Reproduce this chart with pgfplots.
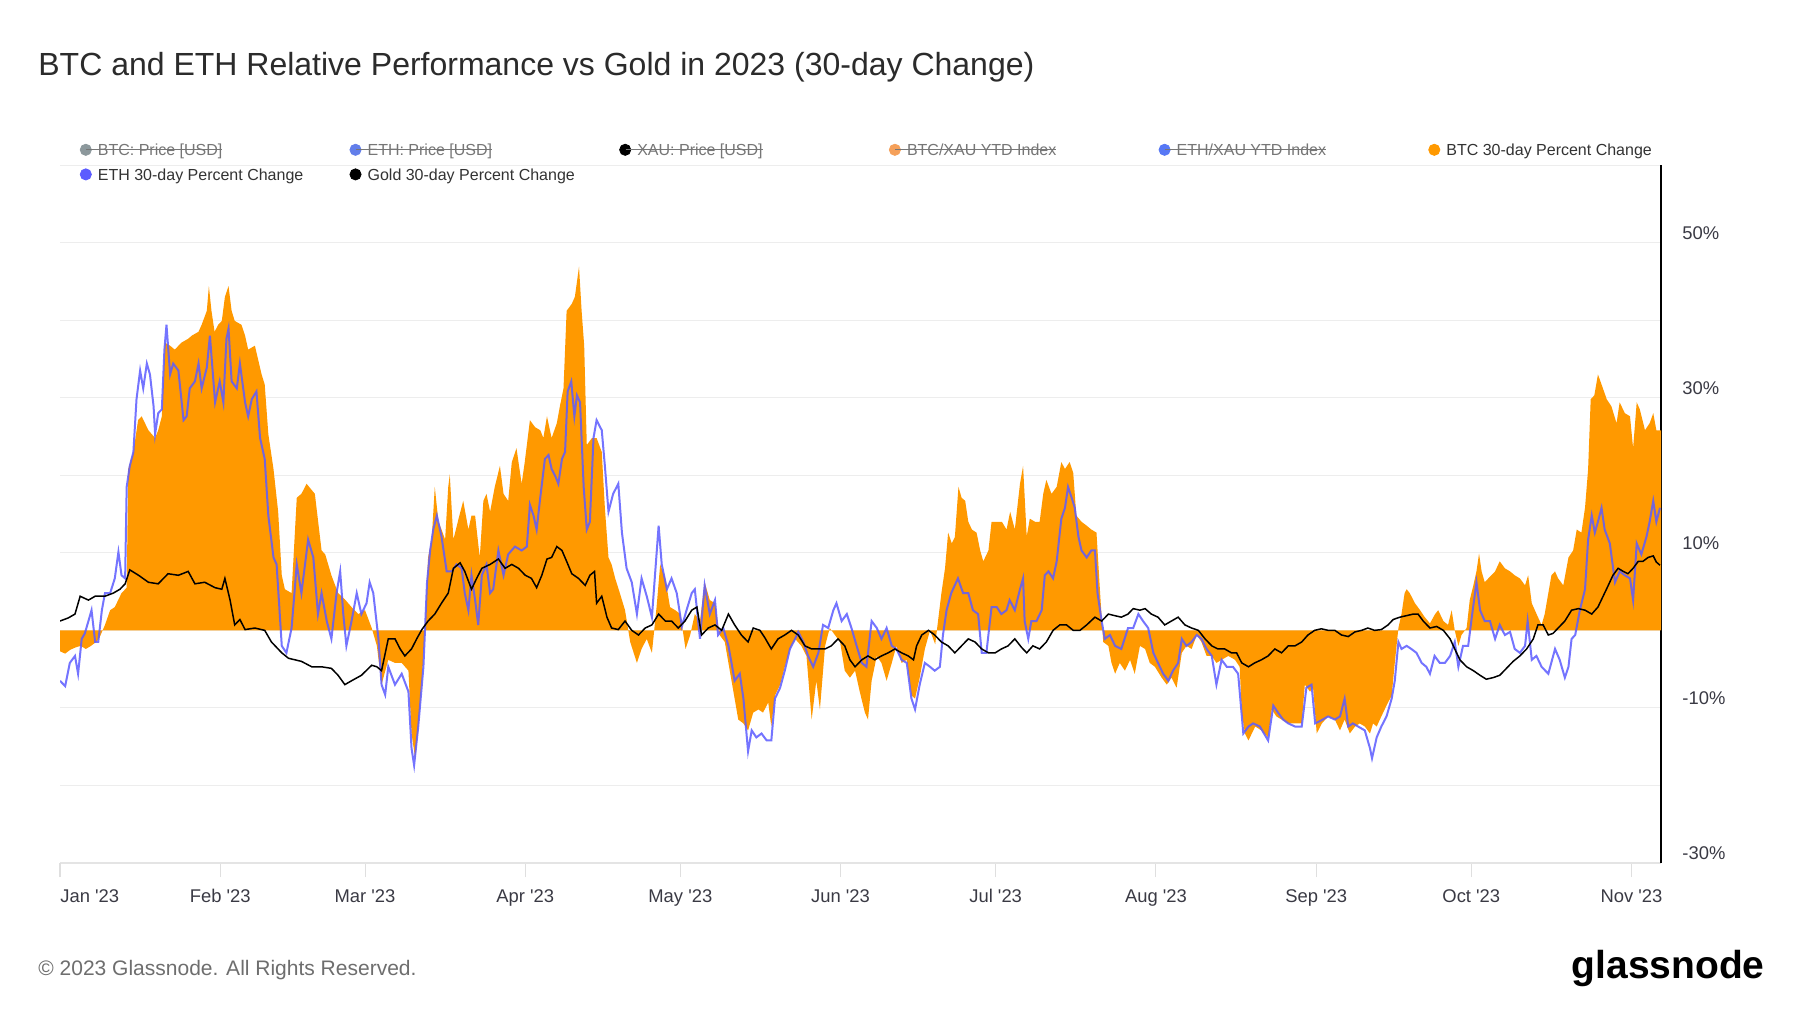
\documentclass[border=0pt]{standalone}
\usepackage{fontspec}
\setmainfont{Liberation Sans}
\usepackage{pgfplots}
\pgfplotsset{compat=1.18}
\definecolor{btc}{HTML}{FF9900}
\definecolor{eth}{HTML}{5C5CFF}
\definecolor{gridc}{HTML}{EDEDED}
\definecolor{xaxisc}{HTML}{E4E4E4}
\definecolor{titlec}{HTML}{2B2B2B}
\definecolor{tickc}{HTML}{3A3A44}
\definecolor{footc}{HTML}{6E6E6E}
\definecolor{lgray}{HTML}{767676}
\definecolor{ldark}{HTML}{333333}
\definecolor{cbtcp}{HTML}{8C989C}
\definecolor{cethp}{HTML}{627EEA}
\definecolor{cbtcx}{HTML}{F5A05A}
\definecolor{cethx}{HTML}{5778F5}
\newcommand\strike[1]{\setbox0=\hbox{#1}\dimen0=\wd0\advance\dimen0 by 5.9pt\kern-5.9pt\rlap{\rule[2.7pt]{\dimen0}{0.5pt}}\kern5.9pt\box0}
\pgfplotsset{dotleg/.style={legend image code/.code={\fill[#1] (2.8pt,0.9pt) circle (2.8pt);}}}

\pgfplotstableread{
x y
0 -2.7
1 -3.0
2 -2.5
3 -2.2
4 -2.0
5 -2.4
6 -2.0
7 -1.5
7.6 -1.0
8.7 0.7
9.7 2.6
10.6 3.0
11.9 4.8
12.9 5.5
13.2 20.8
14.2 23.0
15.1 27.1
15.8 27.6
17.1 25.8
18.4 24.8
19.0 25.8
19.7 27.6
20.3 37.1
21.3 36.7
22.2 36.2
23.5 37.1
24.8 37.6
25.5 38.0
26.8 38.5
27.4 39.4
28.4 41.2
28.8 44.4
29.3 41.2
29.9 38.5
30.6 39.4
31.3 39.9
31.9 43.0
32.6 44.4
33.2 41.2
33.8 39.9
35.1 39.4
35.8 38.0
36.4 36.2
37.7 36.7
39.0 33.0
39.6 31.7
40.3 25.3
41.3 20.8
42.2 15.3
42.9 7.1
43.5 5.3
44.8 4.8
45.8 17.1
46.7 17.6
47.7 18.9
49.3 17.6
50.6 10.3
51.3 9.8
52.5 7.1
53.8 4.8
55.1 4.0
56.4 3.0
57.7 2.1
59.0 2.6
60.3 0.3
61.3 -2.0
62.2 -7.0
63.5 -3.8
64.8 -4.2
66.1 -4.2
67.4 -5.2
68.0 -13.3
68.7 -16.5
69.3 -12.9
70.0 -6.5
70.6 0.3
71.2 9.4
71.9 11.7
72.5 18.5
73.2 14.0
73.8 13.0
74.5 11.7
75.1 18.5
75.4 20.1
76.1 11.7
77.1 14.4
78.0 16.7
79.0 13.0
79.6 14.8
80.3 14.8
81.2 9.4
81.9 16.7
82.5 17.6
83.2 15.3
84.1 18.5
85.1 21.2
85.8 17.6
86.7 16.7
87.4 21.7
88.3 23.5
89.3 18.9
89.9 21.7
90.9 27.1
91.9 26.2
92.9 25.8
93.5 24.8
94.2 27.6
95.1 24.8
96.1 26.7
96.7 28.9
97.4 31.2
98.0 41.2
99.0 42.1
99.6 43.0
100.4 46.9
100.9 41.2
101.4 36.7
101.9 23.9
102.9 24.8
103.8 24.8
104.8 23.0
105.4 15.8
106.1 9.4
106.7 8.5
107.4 6.7
108.3 4.8
109.3 2.6
110.3 -1.5
111.6 -4.2
112.5 -2.4
113.5 -1.1
114.5 -2.9
115.4 3.0
116.1 8.5
117.1 6.7
118.0 3.0
119.0 2.6
120.0 2.1
121.0 -2.4
121.9 -0.6
122.8 2.1
123.8 1.2
124.7 6.2
125.7 3.9
126.7 3.5
127.6 -0.6
128.6 -1.5
129.3 -4.2
129.9 -6.5
130.5 -8.8
131.2 -11.5
132.2 -12.0
133.1 -12.9
134.1 -10.6
135.1 -10.2
136.0 -10.6
137.0 -9.3
137.6 -12.4
138.3 -8.4
139.3 -7.0
140.2 -4.7
141.2 -2.4
142.2 -1.1
143.4 -2.0
144.4 -3.3
145.4 -11.5
146.3 -6.5
147.0 -10.2
148.0 -2.0
148.9 0.3
149.9 -0.6
150.9 -1.5
151.8 -5.2
152.8 -6.1
153.8 -5.2
154.7 -7.9
155.7 -10.6
156.3 -11.5
157.0 -6.5
158.0 -3.3
158.9 -4.2
159.9 -6.5
160.9 -4.2
161.8 -2.0
162.8 -4.2
163.8 -3.8
164.7 -8.4
165.4 -8.8
166.3 -6.1
167.3 -2.4
168.3 0.0
169.3 -1.8
170.5 4.8
171.2 8.0
171.8 12.6
172.5 11.2
173.1 12.0
173.8 18.5
174.4 17.1
175.1 16.7
175.7 14.0
176.4 13.0
177.3 12.6
178.0 10.3
178.6 8.9
179.6 10.3
180.2 14.0
181.2 14.0
182.2 14.0
183.1 13.0
183.8 15.3
184.7 13.0
185.7 18.9
186.3 21.2
187.0 12.1
187.6 14.4
188.6 14.0
189.5 14.0
190.2 17.6
190.8 19.4
191.8 17.6
192.8 18.5
193.7 21.7
194.4 20.8
195.3 21.7
196.0 20.3
196.6 14.8
197.6 14.0
198.6 13.5
199.5 13.0
200.5 12.6
201.2 4.8
201.8 -1.5
202.8 -2.0
203.4 -4.2
204.1 -5.6
205.0 -4.2
206.0 -5.2
207.0 -3.8
207.9 -5.6
208.9 -2.0
209.9 -2.4
210.8 -4.2
211.8 -4.7
213.1 -6.1
214.1 -7.0
215.0 -6.1
216.0 -7.4
217.0 -2.9
217.9 -2.0
218.9 -2.4
219.9 -0.6
220.8 -1.5
221.8 -3.3
222.8 -3.3
223.7 -4.2
224.7 -3.8
226.0 -3.3
227.3 -3.8
228.2 -4.7
228.6 -10.6
229.2 -13.3
229.9 -14.2
231.2 -12.4
232.4 -12.9
233.7 -13.8
234.4 -10.2
235.3 -11.1
236.3 -11.5
237.6 -12.0
238.9 -12.0
240.2 -12.0
240.8 -7.0
241.8 -7.9
242.4 -7.4
243.1 -13.3
244.1 -12.0
245.3 -11.1
246.6 -11.5
247.6 -12.9
248.5 -11.5
249.5 -13.3
250.5 -12.4
251.4 -12.0
252.4 -12.4
253.4 -13.3
254.0 -12.0
254.7 -12.4
255.6 -11.1
256.6 -9.7
257.6 -8.4
258.2 -4.2
258.9 0.3
259.5 2.1
260.1 4.8
260.5 5.3
261.1 4.8
262.1 3.5
263.1 2.6
264.0 1.7
265.0 0.9
266.0 2.1
266.6 2.6
267.6 1.2
268.5 0.7
269.2 2.6
269.8 0.0
270.5 -2.0
271.1 -0.6
272.1 0.3
272.7 3.9
273.4 5.8
274.0 7.6
274.5 9.9
275.0 7.6
275.6 6.2
276.3 6.7
276.9 7.1
277.6 7.6
278.5 8.9
279.5 8.0
280.5 7.6
281.4 7.1
282.4 6.7
283.4 5.8
284.0 7.1
284.7 3.5
285.3 2.6
285.9 1.7
286.6 0.7
287.2 2.1
287.9 4.8
288.5 7.1
289.2 7.6
289.8 6.7
290.8 5.8
291.8 9.4
292.7 10.3
293.4 13.0
294.3 12.6
295.0 15.8
295.6 20.8
296.1 29.8
296.8 30.3
297.5 33.0
298.2 31.7
299.2 29.8
300.1 28.9
301.1 26.7
301.7 29.4
302.7 28.0
303.7 27.6
304.3 23.5
305.0 29.4
305.6 28.5
306.6 25.8
307.5 26.7
308.2 28.0
308.8 25.8
309.7 25.8
}\btcdata

\pgfplotstableread{
x y
0 -6.5
1.0 -7.2
1.9 -4.2
2.9 -3.3
3.5 -5.6
4.2 -1.1
4.8 -0.4
5.5 1.2
6.1 2.6
6.8 -1.5
7.4 -1.5
8.1 2.6
8.7 4.8
9.7 4.8
10.6 6.7
11.3 10.1
11.9 7.1
12.6 6.7
12.9 18.5
13.5 21.2
14.2 23.0
14.8 29.8
15.5 33.5
16.1 31.2
16.8 34.4
17.4 33.0
18.1 28.9
18.4 25.3
19.0 28.0
19.7 28.5
20.2 36.2
20.6 39.4
21.3 33.0
21.9 34.4
22.9 33.5
23.9 27.1
24.5 27.6
25.1 31.2
26.1 32.1
26.8 34.4
27.4 31.2
28.4 33.9
29.0 38.0
30.0 29.4
30.9 32.1
31.6 29.4
32.2 37.6
32.6 38.9
33.2 32.1
34.2 31.2
34.8 34.4
35.8 29.4
36.4 27.6
37.1 29.8
38.0 30.8
38.7 24.8
39.6 22.1
40.3 14.8
41.3 9.4
41.9 8.5
42.9 -2.0
43.8 -2.9
44.8 0.3
45.8 8.5
46.7 4.8
48.0 11.7
49.0 9.4
49.9 2.1
50.6 4.8
51.6 1.2
52.5 -1.1
53.5 4.8
54.2 7.6
54.8 2.1
55.4 -2.0
56.4 1.2
57.4 4.8
58.3 2.1
59.3 3.5
59.9 6.2
60.6 4.8
61.6 -1.1
62.2 -7.0
62.9 -8.3
63.5 -4.7
64.8 -7.0
66.1 -5.6
67.4 -7.9
68.0 -15.2
68.5 -17.4
69.3 -12.4
70.3 -4.7
71.0 6.2
71.6 10.3
72.2 13.0
72.9 14.8
73.8 12.1
74.8 7.6
75.8 7.6
76.7 8.5
77.7 8.0
78.3 4.8
79.0 2.6
79.6 7.1
80.3 3.9
80.9 0.7
81.6 7.1
82.5 8.5
83.2 4.8
83.8 5.3
84.8 10.3
85.8 7.1
86.7 9.8
88.0 10.8
89.3 10.3
90.3 10.8
90.9 16.2
91.6 14.8
92.2 13.0
92.9 17.1
93.8 22.1
94.5 22.6
95.1 20.8
95.8 19.9
96.4 18.9
97.1 22.1
97.7 23.0
98.2 30.8
98.9 32.1
99.5 27.6
100.0 30.3
100.6 29.4
101.3 18.5
101.9 13.0
102.5 14.0
103.2 24.8
103.8 27.1
104.8 25.8
105.4 21.2
106.1 15.3
107.0 17.6
108.0 18.9
108.7 12.6
109.6 8.0
110.6 6.2
111.6 2.1
112.5 6.7
113.5 4.4
114.5 1.7
115.8 13.5
116.4 8.5
117.4 5.3
118.3 6.7
119.3 4.8
120.3 0.5
121.2 2.6
122.2 4.8
122.8 5.3
123.8 -1.1
124.7 5.8
125.7 2.1
126.7 3.9
127.3 -0.6
128.3 0.3
129.3 -2.0
129.9 -4.2
130.5 -6.5
131.5 -5.6
132.2 -8.8
133.1 -15.6
133.8 -12.9
134.7 -13.8
135.7 -13.3
136.7 -14.2
137.6 -14.2
138.3 -8.8
139.3 -7.4
140.2 -5.2
141.2 -2.4
142.2 -1.1
142.8 -0.2
143.8 -1.5
144.7 -3.3
145.7 -4.7
146.7 -2.9
147.6 0.7
148.6 0.3
149.6 2.6
150.2 3.5
151.2 1.2
152.2 2.1
153.1 0.3
154.1 -2.0
155.1 -4.2
156.0 -4.7
157.0 1.2
158.0 0.3
158.9 -1.1
159.9 0.3
160.9 -2.0
161.8 -2.4
162.8 -3.8
163.8 -4.2
164.7 -8.8
165.4 -10.2
166.3 -7.0
167.3 -4.2
168.3 -4.7
169.2 -5.2
170.2 -4.7
170.8 -0.6
171.5 2.6
172.4 4.8
173.7 6.7
174.7 4.8
175.7 4.8
176.6 2.6
177.6 2.1
178.3 -2.9
179.2 -2.9
180.2 3.0
181.2 3.0
182.1 2.1
183.1 2.6
183.7 3.9
184.7 2.6
185.7 5.3
186.3 6.7
186.6 1.2
187.3 -1.1
187.9 1.2
188.9 1.2
189.9 2.6
190.5 7.1
191.2 7.6
192.1 6.7
192.8 8.9
193.7 14.4
194.4 15.8
195.0 18.5
195.7 17.1
196.3 15.8
197.0 12.1
197.6 10.3
198.6 9.4
199.5 10.3
200.2 10.3
200.7 4.8
201.5 1.2
202.1 -1.1
203.1 -0.6
204.1 -2.0
205.3 -2.4
206.6 0.3
207.6 0.3
208.6 2.1
209.5 1.2
210.5 0.3
211.5 -2.9
212.4 -4.2
213.4 -5.6
214.4 -6.5
215.3 -5.2
216.3 -4.2
217.0 -1.1
217.9 -2.0
218.9 -1.5
219.9 -0.6
220.8 -1.1
221.8 -2.4
222.8 -3.3
223.7 -7.0
224.7 -3.8
225.7 -4.7
226.9 -4.7
227.9 -5.6
228.9 -13.3
229.9 -12.4
230.8 -12.0
232.1 -12.4
233.7 -14.2
234.7 -9.7
235.6 -10.6
236.6 -11.5
237.6 -12.0
238.9 -12.4
240.2 -12.4
241.1 -7.4
242.1 -7.0
242.8 -12.0
244.0 -11.6
245.3 -11.1
246.6 -11.5
247.6 -11.1
248.5 -8.8
249.2 -12.4
250.1 -12.0
251.1 -12.4
252.4 -12.9
253.4 -15.2
253.8 -16.5
254.7 -13.8
255.6 -12.4
256.6 -11.1
257.6 -8.8
258.2 -6.5
258.9 -1.5
259.5 -2.4
260.5 -2.0
261.4 -2.4
262.4 -2.9
263.4 -4.2
264.3 -4.7
265.0 -5.6
265.9 -3.3
266.9 -4.2
267.9 -4.2
268.9 -3.3
269.8 -1.5
270.5 -4.7
271.4 -2.0
272.4 -2.0
273.1 1.7
274.0 6.2
274.7 2.6
275.6 1.2
276.6 1.2
277.6 -1.1
278.5 0.7
279.5 -0.6
280.5 -0.2
281.4 -2.4
282.4 -2.9
283.4 -2.0
283.9 1.2
284.7 -3.8
285.6 -3.3
286.6 -4.7
287.9 -5.6
289.2 -2.4
290.1 -3.8
291.1 -6.1
291.8 -4.7
292.4 -1.1
293.1 -0.6
294.0 2.6
295.0 5.3
295.6 11.7
296.3 14.8
296.9 12.6
297.5 14.0
298.2 15.8
298.8 13.0
299.8 11.2
300.8 6.2
301.7 7.6
302.7 7.1
303.7 6.7
304.3 3.9
305.0 11.2
305.9 9.8
306.9 12.1
307.5 14.0
308.2 16.7
308.8 14.0
309.5 15.8
}\ethdata

\pgfplotstableread{
x y
0 1.2
1.6 1.6
2.9 2.1
3.9 4.4
5.5 3.9
6.8 4.4
8.7 4.4
10.3 4.8
11.6 5.3
12.6 6.0
13.5 7.8
15.2 7.1
17.1 6.2
19.0 6.0
20.9 7.3
22.9 7.1
24.8 7.6
26.1 6.0
28.0 6.2
30.0 5.5
31.3 5.3
31.9 6.7
32.9 3.9
33.8 0.7
34.8 1.4
35.8 0.1
37.7 0.3
39.6 0.0
40.9 -1.5
42.9 -2.9
44.2 -3.6
46.7 -4.0
48.7 -4.7
50.6 -4.7
52.5 -4.9
53.8 -5.8
55.1 -7.0
56.4 -6.5
58.3 -5.8
60.3 -4.5
61.3 -4.7
62.2 -5.2
63.5 -1.1
64.8 -1.1
65.8 -2.4
66.7 -3.3
68.0 -2.4
69.0 -1.1
70.0 0.1
71.2 1.2
72.5 2.1
73.8 3.5
75.1 4.8
76.1 8.0
77.4 8.7
78.3 7.6
79.6 5.3
80.6 6.7
81.6 8.0
83.2 8.5
84.8 9.2
86.1 8.0
87.4 8.5
88.7 8.0
90.0 7.1
91.2 6.7
92.2 5.5
93.2 7.1
94.2 9.2
95.1 9.4
96.1 10.8
97.1 10.3
98.0 8.9
99.0 7.3
100.3 6.7
101.6 5.8
102.5 7.1
103.4 7.6
103.8 3.5
104.8 4.4
105.8 1.7
106.7 0.3
108.0 0.1
109.3 1.2
110.6 0.0
111.9 -0.6
113.2 0.3
114.5 0.7
115.8 2.1
117.1 1.2
118.3 1.2
119.6 0.3
120.9 1.2
122.2 2.6
123.2 3.0
124.1 -0.6
125.4 0.3
126.7 0.7
128.0 0.0
129.3 2.1
130.5 0.7
131.8 -0.6
133.1 -1.5
134.1 0.3
135.4 0.0
136.3 -0.9
137.6 -2.4
138.9 -1.1
140.2 -0.6
141.5 0.0
142.8 -0.6
144.1 -2.0
145.4 -2.4
146.7 -2.4
148.0 -2.4
149.2 -2.0
150.5 -1.1
151.8 -2.0
152.8 -3.8
153.8 -4.7
155.1 -3.8
156.3 -3.3
157.6 -3.8
158.9 -3.3
160.2 -2.9
161.5 -2.4
162.8 -2.9
164.1 -3.3
165.1 -3.8
165.7 -2.0
166.7 -0.6
168.0 0.0
169.2 -0.6
170.5 -1.5
171.8 -2.0
173.1 -2.9
174.4 -2.0
175.7 -1.1
177.0 -1.5
178.3 -2.4
179.6 -2.9
180.9 -2.9
182.1 -2.4
183.4 -2.0
184.7 -1.1
186.0 -2.2
187.0 -2.9
188.2 -2.0
189.5 -2.4
190.8 -1.5
192.1 0.0
193.4 0.7
194.7 0.7
196.0 0.0
197.3 0.0
198.6 0.7
200.2 1.7
201.5 1.2
202.8 2.1
204.0 1.9
205.3 1.7
206.6 2.1
207.6 2.8
208.9 2.6
209.9 2.8
211.1 2.1
212.4 1.7
213.7 0.7
215.0 1.2
216.3 1.7
217.6 0.7
218.9 0.3
220.2 0.0
221.5 -1.1
222.8 -2.0
224.0 -2.4
225.3 -2.4
226.6 -2.9
227.6 -2.9
228.6 -4.2
229.9 -4.7
231.1 -4.2
232.4 -3.8
233.7 -3.3
235.0 -2.4
236.3 -2.9
237.6 -2.0
238.9 -2.0
240.2 -1.5
241.4 -0.6
242.7 0.0
244.0 0.2
245.3 0.0
246.6 0.0
247.9 -0.6
249.2 -0.8
250.5 -0.2
251.8 0.0
253.0 0.3
254.3 0.0
255.6 0.1
256.9 0.7
257.9 1.4
259.2 1.7
260.5 1.9
261.8 2.1
262.7 2.1
263.7 1.2
265.0 0.3
266.3 0.5
267.6 0.0
268.9 -1.1
269.8 -2.4
270.8 -3.8
272.1 -4.7
273.4 -5.2
274.7 -5.8
275.9 -6.3
277.2 -6.1
278.5 -5.8
279.8 -4.9
281.1 -4.0
282.4 -3.3
283.7 -2.4
285.0 -1.1
285.9 0.7
286.9 0.7
287.9 -0.6
288.8 -0.4
289.8 0.3
291.1 1.2
292.4 2.6
293.7 2.8
295.0 2.6
296.3 2.1
297.5 3.0
298.5 4.4
299.5 5.8
300.4 7.1
301.4 8.0
302.4 7.6
303.3 7.3
304.3 8.0
305.3 8.9
306.2 8.9
307.2 9.4
308.2 9.6
308.8 8.8
309.5 8.4
}\golddata

\begin{document}
\begin{tikzpicture}
\useasboundingbox (0,0) rectangle (900pt,-506.5pt);
\fill[white] (0,0) rectangle (900pt,-506.5pt);
\node[anchor=base west, inner sep=0pt, font=\fontsize{16}{19}\selectfont, text=titlec] at (19pt,-37.5pt) {BTC and ETH Relative Performance vs Gold in 2023 (30-day Change)};
\begin{axis}[
  at={(30pt,-431.5pt)}, anchor=south west,
  scale only axis, width=800.5pt, height=349pt,
  xmin=0, xmax=309.7, ymin=-30, ymax=60,
  axis x line*=bottom, axis y line*=right,
  x axis line style={draw=xaxisc, line width=1pt},
  y axis line style={draw=black, line width=0.9pt},
  ytick={-30,-20,...,60},
  yticklabels={-30\%,,-10\%,,10\%,,30\%,,50\%,},
  ymajorgrids, grid style={draw=gridc, line width=0.5pt},
  ytick style={draw=none},
  xtick={31,59,90,120,151,181,212,243,273,304},
  xticklabels={Feb \textquotesingle23,Mar \textquotesingle23,Apr \textquotesingle23,May \textquotesingle23,Jun \textquotesingle23,Jul \textquotesingle23,Aug \textquotesingle23,Sep \textquotesingle23,Oct \textquotesingle23,Nov \textquotesingle23},
  extra x ticks={0}, extra x tick labels={Jan \textquotesingle23},
  extra x tick style={xticklabel style={anchor=base west}},
  xtick style={draw=gray!25, line width=0.5pt},
  tick align=outside, major tick length=7pt,
  tick label style={font=\fontsize{9.2}{11}\selectfont, text=tickc},
  xticklabel style={anchor=base, inner sep=0pt, yshift=-12.5pt},
  yticklabel style={anchor=west, inner sep=0pt, xshift=3.5pt, yshift=4.75pt},
  legend columns=6,
  legend style={at={(0.00837,1.0367)}, anchor=north west, draw=none, fill=none,
    font=\fontsize{8}{9.6}\selectfont,
    /tikz/every odd column/.append style={column sep=3.05pt},
    /tikz/every even column/.append style={column sep=0pt},
    row sep=4.7pt,
    nodes={inner sep=0pt, text height=5.8pt, text depth=1.6pt}},
  legend cell align=left,
]
\addlegendimage{dotleg=cbtcp}
\addlegendentry{\makebox[125.8pt][l]{\color{lgray}\strike{BTC: Price [USD]}}}
\addlegendimage{dotleg=cethp}
\addlegendentry{\makebox[125.8pt][l]{\color{lgray}\strike{ETH: Price [USD]}}}
\addlegendimage{dotleg=black}
\addlegendentry{\makebox[125.8pt][l]{\color{lgray}\strike{XAU: Price [USD]}}}
\addlegendimage{dotleg=cbtcx}
\addlegendentry{\makebox[125.8pt][l]{\color{lgray}\strike{BTC/XAU YTD Index}}}
\addlegendimage{dotleg=cethx}
\addlegendentry{\makebox[125.8pt][l]{\color{lgray}\strike{ETH/XAU YTD Index}}}
\addlegendimage{dotleg=btc}
\addlegendentry{\makebox[125.8pt][l]{\color{ldark}BTC 30-day Percent Change}}
\addlegendimage{dotleg=eth}
\addlegendentry{\makebox[125.8pt][l]{\color{ldark}ETH 30-day Percent Change}}
\addlegendimage{dotleg=black}
\addlegendentry{\makebox[125.8pt][l]{\color{ldark}Gold 30-day Percent Change}}
\addplot[draw=none, fill=btc, forget plot] table {\btcdata} \closedcycle;
\addplot[eth, line width=1pt, opacity=0.85, forget plot] table {\ethdata};
\addplot[black, line width=0.75pt, forget plot] table {\golddata};
\end{axis}
\node[anchor=base west, inner sep=0pt, font=\fontsize{10.5}{12}\selectfont, text=footc] at (19pt,-487.75pt) {© 2023 Glassnode. All Rights Reserved.};
\node[anchor=base east, inner sep=0pt, font=\bfseries\fontsize{19.5}{22}\selectfont, text=black] at (882.5pt,-489pt) {glassnode};
\end{tikzpicture}
\end{document}
